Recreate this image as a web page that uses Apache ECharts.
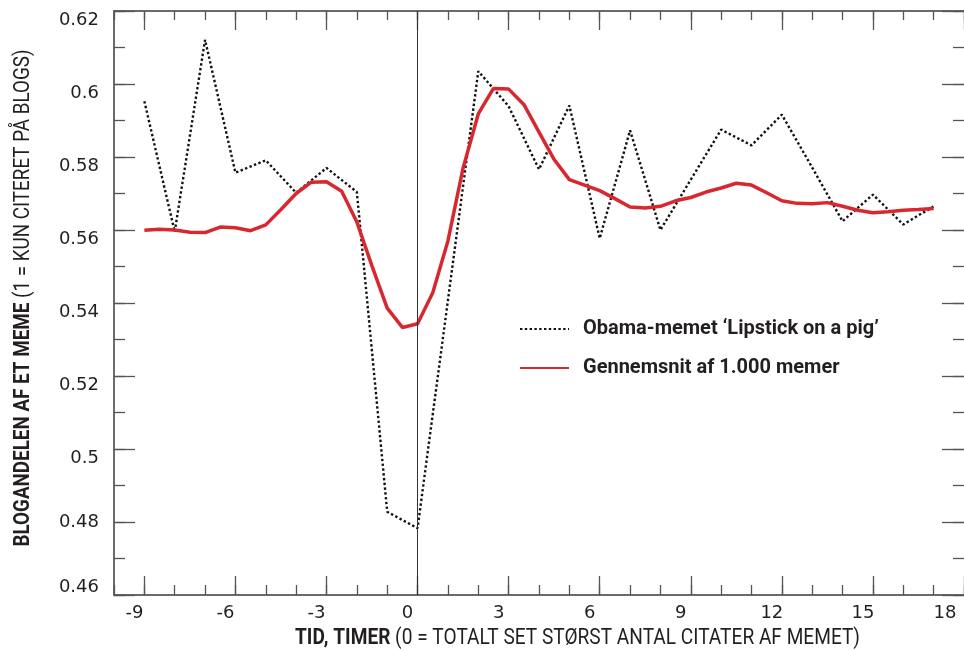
<!DOCTYPE html>
<html>
<head>
<meta charset="utf-8">
<script src="https://cdn.jsdelivr.net/npm/echarts@6/dist/echarts.min.js"></script>
<style>html,body{margin:0;padding:0;background:#fff}#c{width:964px;height:651px}</style>
</head>
<body>
<div id="c"></div>
<script>
// ---- data ----
const obamaHours = [-9,-8,-7,-6,-5,-4,-3,-2,-1,0,1,2,3,4,5,6,7,8,9,10,11,12,13,14,15,16,17];
const obamaValues = [0.5953,0.5595,0.6121,0.5757,0.5791,0.5702,0.5770,0.5704,0.4828,0.4783,0.5407,0.6035,0.5939,0.5766,0.5941,0.5577,0.5873,0.5600,0.5738,0.5875,0.5832,0.5916,0.5771,0.5624,0.5697,0.5615,0.5665];
const avgHours = [-9,-8.5,-8,-7.5,-7,-6.5,-6,-5.5,-5,-4.5,-4,-3.5,-3,-2.5,-2,-1.5,-1,-0.5,0,0.5,1,1.5,2,2.5,3,3.5,4,4.5,5,5.5,6,6.5,7,7.5,8,8.5,9,9.5,10,10.5,11,11.5,12,12.5,13,13.5,14,14.5,15,15.5,16,16.5,17];
const avgValues = [0.5599,0.5602,0.5600,0.5594,0.5593,0.5608,0.5606,0.5598,0.5614,0.5656,0.5700,0.5731,0.5732,0.5706,0.5622,0.5501,0.5386,0.5333,0.5343,0.5428,0.5570,0.5770,0.5918,0.5988,0.5986,0.5944,0.5868,0.5793,0.5738,0.5723,0.5708,0.5686,0.5663,0.5660,0.5665,0.5680,0.5689,0.5704,0.5715,0.5728,0.5723,0.5702,0.5680,0.5673,0.5672,0.5675,0.5665,0.5654,0.5647,0.5650,0.5654,0.5656,0.5659];
const xTickLabels = [-9,-6,-3,0,3,6,9,12,15,18];
const yTickLabels = [0.46,0.48,0.5,0.52,0.54,0.56,0.58,0.6,0.62];
const seriesNames = ['Obama-memet \u2018Lipstick on a pig\u2019', 'Gennemsnit af 1.000 memer'];
const xTitleBold = 'TID, TIMER';
const xTitleRest = ' (0 = TOTALT SET ST\u00d8RST ANTAL CITATER AF MEMET)';
const yTitleBold = 'BLOGANDELEN AF ET MEME';
const yTitleRest = ' (1 = KUN CITERET P\u00c5 BLOGS)';

// ---- chart ----
const TXT = '#231f20';
const AX = '#3a3a3a';
const NUMFONT = 'DejaVu Sans';
const TFONT = 'Roboto';
const chart = echarts.init(document.getElementById('c'), null, {renderer:'canvas'});

// measure title widths to condense them to the reference widths
const mctx = document.createElement('canvas').getContext('2d');
function tw(txt, weight, size) { mctx.font = weight + ' ' + size + 'px ' + TFONT; return mctx.measureText(txt).width; }
const TSIZE = 22;
const xTitleW = tw(xTitleBold, 'bold', TSIZE) + tw(xTitleRest, 'normal', TSIZE);
const yTitleW = tw(yTitleBold, 'bold', TSIZE) + tw(yTitleRest, 'normal', TSIZE);
const xScale = 565 / xTitleW;
const yScale = 497 / yTitleW;

const xLabelRich = {
  n: {fontFamily: NUMFONT, fontSize: 18, color: TXT, padding: [0,20,0,0]},
  e: {fontFamily: NUMFONT, fontSize: 18, color: TXT, padding: [0,38,0,0]}
};
const yLabelRich = {
  n: {fontFamily: NUMFONT, fontSize: 18, color: TXT, padding: [18,0,0,0]},
  z: {fontFamily: NUMFONT, fontSize: 18, color: TXT},
  u: {fontFamily: NUMFONT, fontSize: 18, color: TXT, padding: [0,0,16,0]}
};
const fmtY = v => String(parseFloat((+v).toFixed(2)));
const near = (a,b) => Math.abs(a-b) < 1e-6;

const xBase = {type:'value', min:-10, max:18, splitLine:{show:false}};
const yBase = {type:'value', min:0.46, max:0.62, splitLine:{show:false}};
const tickStyle = {color:'#555', width:1.3};

const option = {
  animation: false,
  grid: {left:114, top:11, right:-3, bottom:56, containLabel:false},
  xAxis: [
    Object.assign({}, xBase, {
      position:'bottom', interval:1,
      axisLine:{show:true, onZero:false, lineStyle:{color:AX, width:1.5}},
      axisTick:{show:true, inside:true, length:10, lineStyle:tickStyle},
      axisLabel:{show:true, margin:9, customValues:xTickLabels,
        formatter: v => (near(v,18) ? '{e|' : '{n|') + String(Math.round(v)) + '}', rich:xLabelRich}
    }),
    Object.assign({}, xBase, {
      position:'bottom',
      axisLine:{show:false, onZero:false},
      axisTick:{show:true, inside:true, length:19, customValues:xTickLabels, lineStyle:tickStyle},
      axisLabel:{show:false}
    }),
    Object.assign({}, xBase, {
      position:'top', interval:1,
      axisLine:{show:true, onZero:false, lineStyle:{color:AX, width:1.5}},
      axisTick:{show:true, inside:true, length:9, lineStyle:tickStyle},
      axisLabel:{show:false}
    }),
    Object.assign({}, xBase, {
      position:'top',
      axisLine:{show:false, onZero:false},
      axisTick:{show:true, inside:true, length:19, customValues:xTickLabels, lineStyle:tickStyle},
      axisLabel:{show:false}
    })
  ],
  yAxis: [
    Object.assign({}, yBase, {
      position:'left', interval:0.01,
      axisLine:{show:true, onZero:false, lineStyle:{color:AX, width:1.5}},
      axisTick:{show:true, inside:true, length:11, lineStyle:tickStyle},
      axisLabel:{show:true, margin:15, customValues:yTickLabels,
        formatter: v => (near(v,0.46) ? '{u|' : near(v,0.48) ? '{z|' : '{n|') + fmtY(v) + '}', rich:yLabelRich}
    }),
    Object.assign({}, yBase, {
      position:'left',
      axisLine:{show:false, onZero:false},
      axisTick:{show:true, inside:true, length:21, customValues:yTickLabels, lineStyle:tickStyle},
      axisLabel:{show:false}
    }),
    Object.assign({}, yBase, {
      position:'right', interval:0.01,
      axisLine:{show:false, onZero:false},
      axisTick:{show:true, inside:true, length:11, lineStyle:tickStyle},
      axisLabel:{show:false}
    }),
    Object.assign({}, yBase, {
      position:'right',
      axisLine:{show:false, onZero:false},
      axisTick:{show:true, inside:true, length:22, customValues:yTickLabels, lineStyle:tickStyle},
      axisLabel:{show:false}
    })
  ],
  legend: {
    orient:'vertical', left:519, top:319, padding:0,
    itemWidth:49, itemHeight:14, itemGap:19,
    itemStyle:{opacity:0},
    textStyle:{fontFamily:TFONT, fontWeight:'bold', fontSize:20, color:TXT, lineHeight:20, padding:[0,0,0,9]},
    data: seriesNames
  },
  series: [
    {
      name: seriesNames[0], type:'line', xAxisIndex:0, yAxisIndex:0,
      data: obamaHours.map((h,i) => [h, obamaValues[i]]),
      symbol:'none', z:3,
      lineStyle:{color:'#111', width:2.4, type:[2.4,2.4], cap:'butt'},
      itemStyle:{color:'#111'},
      markLine:{
        silent:true, symbol:['none','none'], label:{show:false},
        lineStyle:{color:'#333', width:1, type:'solid'},
        data:[{xAxis:0}]
      }
    },
    {
      name: seriesNames[1], type:'line', xAxisIndex:0, yAxisIndex:0,
      data: avgHours.map((h,i) => [h, avgValues[i]]),
      symbol:'none', z:4,
      lineStyle:{color:'#d8282f', width:3.5},
      itemStyle:{color:'#d8282f'}
    }
  ],
  graphic: [
    {
      type:'text', x:295, y:638, scaleX:xScale,
      style:{
        text:'{b|' + xTitleBold + '}{r|' + xTitleRest + '}',
        align:'left', verticalAlign:'middle',
        rich:{
          b:{fontFamily:TFONT, fontWeight:'bold', fontSize:TSIZE, fill:TXT},
          r:{fontFamily:TFONT, fontSize:TSIZE, fill:TXT}
        }
      }
    },
    {
      type:'text', x:23, y:298, rotation:Math.PI/2, scaleX:yScale,
      style:{
        text:'{b|' + yTitleBold + '}{r|' + yTitleRest + '}',
        align:'center', verticalAlign:'middle',
        rich:{
          b:{fontFamily:TFONT, fontWeight:'bold', fontSize:TSIZE, fill:TXT},
          r:{fontFamily:TFONT, fontSize:TSIZE, fill:TXT}
        }
      }
    }
  ]
};
chart.setOption(option);
</script>
</body>
</html>
